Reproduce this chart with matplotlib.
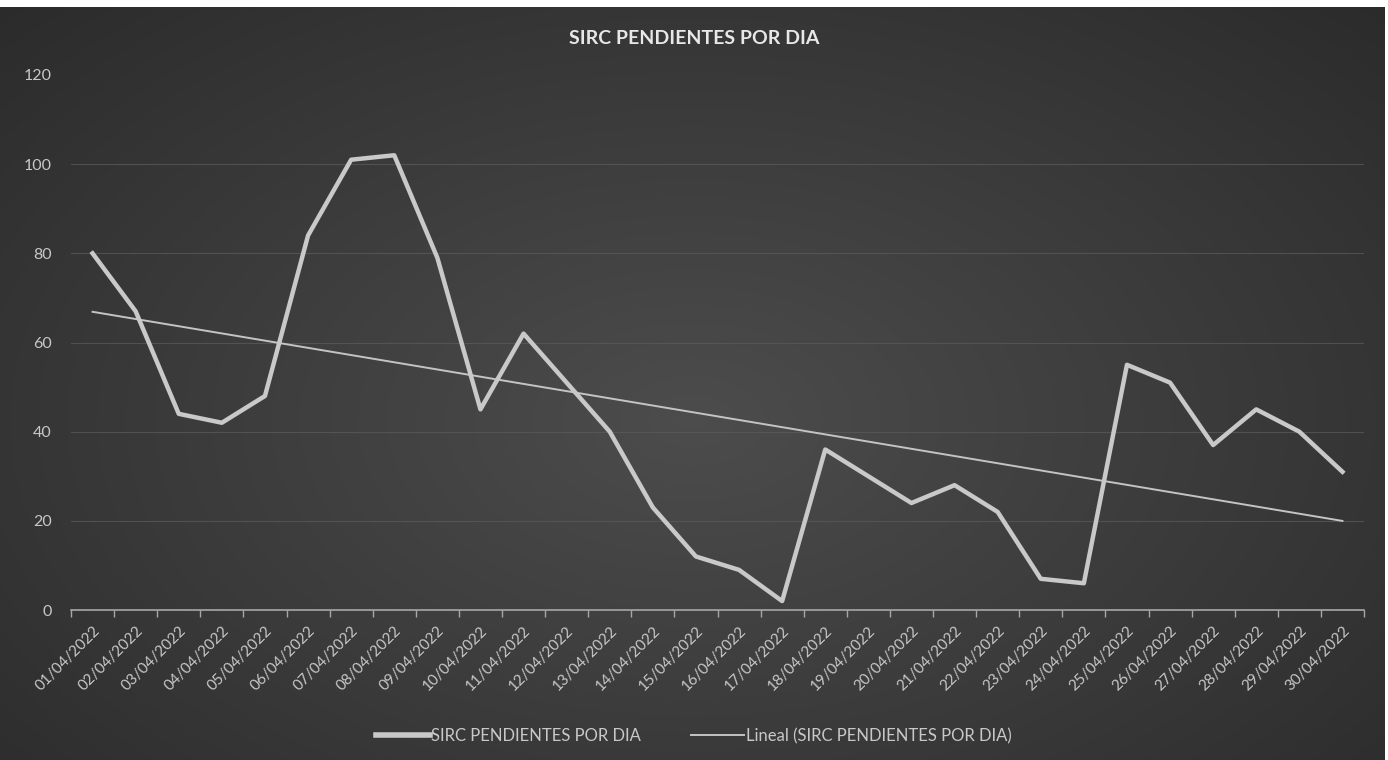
import numpy as np
import matplotlib
matplotlib.use('Agg')
import matplotlib.pyplot as plt
from matplotlib.lines import Line2D

# daily pending SIRC counts, April 2022
dates = ['%02d/04/2022' % d for d in range(1, 31)]
pendientes = [80, 67, 44, 42, 48, 84, 101, 102, 79, 45,
              62, 51, 40, 23, 12, 9, 2, 36, 30, 24,
              28, 22, 7, 6, 55, 51, 37, 45, 40, 31]

plt.rcParams['font.family'] = ['Lato', 'DejaVu Sans']

fig = plt.figure(figsize=(13.88, 7.6), dpi=100)
fig.patch.set_facecolor('white')

# dark radial background like the excel theme
bg = fig.add_axes([0, 0, 1385 / 1388, 1 - 7 / 760])
bg.set_axis_off()
yy, xx = np.mgrid[0:1:300j, 0:1:550j]
r = np.sqrt(((xx - 0.5) / 0.75) ** 2 + ((yy - 0.45) / 0.85) ** 2)
r = np.clip(r, 0, 1)
shade = 0.30 - 0.14 * r
bg.imshow(np.dstack([shade] * 3), aspect='auto', extent=[0, 1, 0, 1], origin='lower')
bg.set_xlim(0, 1)
bg.set_ylim(0, 1)

ax = fig.add_axes([71 / 1388, 1 - 610 / 760, (1364 - 71) / 1388, (610 - 75) / 760])
ax.set_facecolor('none')
x = np.arange(len(dates))

ax.plot(x, pendientes, color='#c9c9c9', lw=3.2, solid_joinstyle='round', zorder=3)
coef = np.polyfit(x, pendientes, 1)
ax.plot(x, np.polyval(coef, x), color='#c4c4c4', lw=1.4, zorder=2)

ax.set_xlim(-0.5, len(dates) - 0.5)
ax.set_ylim(0, 120)
ax.set_yticks(range(0, 121, 20))
ax.set_yticklabels([str(v) for v in range(0, 121, 20)], color='#c8c8c8', fontsize=11.5)
ax.tick_params(axis='y', length=0, pad=14)
for v in range(20, 101, 20):
    ax.axhline(v, color='#5c5c5c', lw=0.8, alpha=0.7, zorder=1)

ax.set_xticks(x)
ax.set_xticklabels(dates, rotation=45, ha='right', rotation_mode='anchor',
                   color='#c8c8c8', fontsize=11)
ax.tick_params(axis='x', which='major', length=0, pad=10)
ax.set_xticks(np.arange(-0.5, len(dates)), minor=True)
ax.tick_params(axis='x', which='minor', length=5, color='#a8a8a8', width=1)

for s in ['top', 'right', 'left']:
    ax.spines[s].set_visible(False)
ax.spines['bottom'].set_color('#a8a8a8')
ax.spines['bottom'].set_linewidth(1.2)

fig.text(0.5, 1 - 38 / 760, 'SIRC PENDIENTES POR DIA', ha='center', va='center',
         color='#e8e8e8', fontsize=14, fontweight='bold')

handles = [Line2D([], [], color='#c9c9c9', lw=4),
           Line2D([], [], color='#c4c4c4', lw=1.4)]
fig.legend(handles, ['SIRC PENDIENTES POR DIA', 'Lineal (SIRC PENDIENTES POR DIA)'],
           loc='center', bbox_to_anchor=(0.5, 1 - 736 / 760), ncol=2, frameon=False,
           fontsize=12, labelcolor='#c8c8c8', handlelength=3.2, handletextpad=0.1,
           columnspacing=3)

fig.savefig('out.png', dpi=100)
